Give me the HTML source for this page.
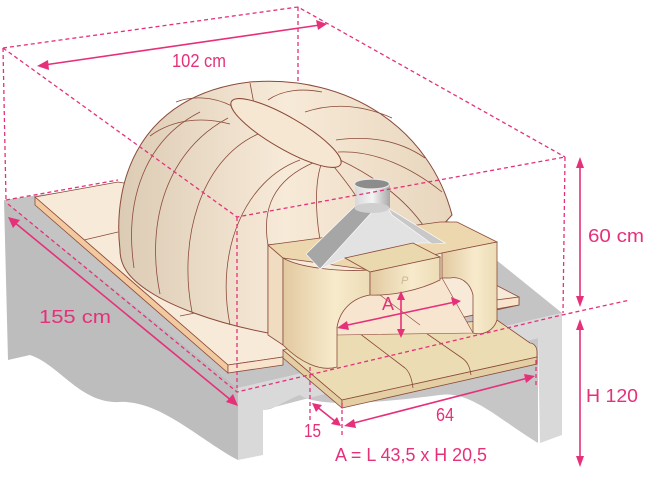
<!DOCTYPE html>
<html><head><meta charset="utf-8"><style>
html,body{margin:0;padding:0;background:#fff;}
svg{display:block;}
text{font-family:"Liberation Sans",sans-serif;fill:#e6307a;}
</style></head><body>
<svg width="655" height="493" viewBox="0 0 655 493" xmlns="http://www.w3.org/2000/svg">
<defs>
<linearGradient id="dome" x1="0" x2="1" y1="0" y2="0">
<stop offset="0" stop-color="#dccbb4"/><stop offset="0.5" stop-color="#f7ead8"/><stop offset="1" stop-color="#e8d6bd"/>
</linearGradient>
<linearGradient id="blk" x1="0" x2="1"><stop offset="0" stop-color="#e2c9a0"/><stop offset="0.6" stop-color="#f7ebcc"/><stop offset="1" stop-color="#ecdcb6"/></linearGradient>
<linearGradient id="cyl" x1="0" x2="1"><stop offset="0" stop-color="#d8d8d8"/><stop offset="0.5" stop-color="#f4f4f4"/><stop offset="1" stop-color="#a8a8a8"/></linearGradient>
</defs>
<!-- stand -->
<polygon points="4,200 360,150 562,313 238,388" fill="#c4c4c4"/>
<path d="M4,200 L238,388 L238,460 C200,440 160,400 120,402 C80,404 60,365 30,355 L8,360 Z" fill="#bdbdbd"/>
<path d="M238,388 L562,313 L562,435 L540,443 L538,338 L263,410 L263,455 L238,460 Z" fill="#d9d9d9"/>
<path d="M263,410 L538,338 L538,443 C500,420 470,390 440,395 C400,400 320,410 300,395 C285,400 275,410 263,410Z" fill="#c6c6c6"/>
<!-- base slab -->
<polygon points="35,197 118,182 450,235 490,282 519,297 519,305 283,357 228,365" fill="#f8ead8" stroke="#8b4a3a" stroke-width="0.8"/>
<polygon points="35,197 228,365 228,373 35,205" fill="#f3c9a0" stroke="#8b4a3a" stroke-width="0.8"/>
<polygon points="228,365 283,357 283,365 228,373" fill="#f8e4cc" stroke="#8b4a3a" stroke-width="0.8"/>
<polygon points="496,300 519,297 519,305 496,309" fill="#f8e4cc" stroke="#8b4a3a" stroke-width="0.8"/>
<line x1="84" y1="240" x2="118" y2="232" stroke="#8b4a3a" stroke-width="0.8"/>
<line x1="132" y1="276" x2="155" y2="272" stroke="#8b4a3a" stroke-width="0.8"/>
<line x1="180" y1="316" x2="200" y2="312" stroke="#8b4a3a" stroke-width="0.8"/>
<!-- dome -->
<path d="M120,250 C112,180 140,95 250,82 C350,74 430,130 452,215 L440,228 L268,245 L268,333 C210,322 170,305 150,292 C128,278 120,265 120,250Z" fill="url(#dome)" stroke="#8b4a3a" stroke-width="1"/>
<g fill="none" stroke="#8b4a3a" stroke-width="0.8">
<path d="M134,268 C124,200 145,140 200,112"/>
<path d="M160,294 C145,220 168,150 228,118"/>
<path d="M192,312 C178,240 200,160 258,134"/>
<path d="M230,325 C215,250 245,180 300,160"/>
<path d="M268,245 C262,210 272,180 315,162"/>
<path d="M320,240 C315,210 315,180 322,162"/>
<path d="M375,232 C365,205 345,180 330,162"/>
<path d="M425,228 C405,198 372,175 340,160"/>
<path d="M338,152 C375,150 412,168 442,192"/>
<path d="M336,140 C372,135 402,142 425,158"/>
<path d="M305,112 C335,102 365,106 392,118"/>
<path d="M268,100 C282,90 302,88 322,92"/>
<path d="M250,83 L254,104"/>
<path d="M232,106 C212,96 192,96 176,102"/>
<path d="M230,124 C200,116 172,120 150,136"/>
</g>
<ellipse cx="286" cy="133" rx="63" ry="16" transform="rotate(30 286 133)" fill="#f6e7d3" stroke="#8b4a3a" stroke-width="1"/>
<!-- entrance back pieces -->
<polygon points="268,245 283,258 283,345 268,335" fill="#f0dcc0" stroke="#8b4a3a" stroke-width="0.8"/>
<polygon points="268,245 440,222 457,222 497,242 442,253 370,270 283,258" fill="#ecd7ae" stroke="#8b4a3a" stroke-width="0.8"/>
<!-- landing -->
<path d="M283,350 L342,400 L537,357 L537,352 C537,346 533,343 530,343 L497,320 L350,330 Z" fill="#ecdcb3" stroke="#8b4a3a" stroke-width="0.8"/>
<polygon points="283,350 342,400 342,408 283,358" fill="#e3cfa3" stroke="#8b4a3a" stroke-width="0.8"/>
<path d="M342,400 L537,357 L537,364 L342,408Z" fill="#e3cfa3" stroke="#8b4a3a" stroke-width="0.8"/>
<g fill="none" stroke="#8b4a3a" stroke-width="0.8">
<path d="M355,330 L405,368 C410,372 412,380 413,388"/>
<path d="M410,322 L462,358 C468,362 470,368 471,375"/>
</g>
<!-- arch interior -->
<path d="M337,327 C340,310 352,298 370,295 L442,278 L473,333 L337,335 Z" fill="#f7e5cf" stroke="#8b4a3a" stroke-width="0.6"/>
<line x1="380" y1="295" x2="420" y2="325" stroke="#8b4a3a" stroke-width="0.6"/>
<!-- left block -->
<path d="M283,258 L283,345 C300,362 320,372 337,367 L337,327 C340,310 352,298 370,295 L370,270 C340,272 300,268 283,258 Z" fill="url(#blk)" stroke="#8b4a3a" stroke-width="0.8"/>
<!-- right pillar -->
<path d="M442,253 L497,242 L497,320 C494,330 484,336 473,333 L473,295 C470,282 460,276 450,278 L442,278 Z" fill="url(#blk)" stroke="#8b4a3a" stroke-width="0.8"/>
<!-- hood -->
<polygon points="372,210 320,269 345,258 420,243 445,243 388,208" fill="#e2e2e2" stroke="#fff" stroke-width="0.6"/>
<polygon points="355,206 306,254 320,269 372,212" fill="#a6a6a6" stroke="#fff" stroke-width="0.6"/>
<polygon points="388,208 445,243 432,244 392,215" fill="#c8c8c8" stroke="#fff" stroke-width="0.6"/>
<rect x="355" y="184" width="35" height="24" fill="url(#cyl)"/>
<ellipse cx="372" cy="208" rx="17.5" ry="5" fill="#cfcfcf"/>
<ellipse cx="372" cy="184" rx="17.5" ry="5" fill="#8c8c8c" stroke="#e8e8e8" stroke-width="1.2"/>
<!-- plaque -->
<polygon points="345,258 413,243 440,257 370,272" fill="#ead8ae" stroke="#8b4a3a" stroke-width="0.8"/>
<path d="M370,272 L440,257 L440,280 C420,290 392,296 370,295 Z" fill="url(#blk)" stroke="#8b4a3a" stroke-width="0.8"/>
<text x="401" y="284" font-size="11" style="fill:#cdb893" font-style="italic">P</text>
<!-- dashed box -->
<g stroke="#e6307a" stroke-width="1.3" stroke-dasharray="4,3" fill="none">
<path d="M3,48 L298,7 L565,157"/>
<path d="M3,48 L237,217 L565,157"/>
<path d="M3,48 L6,200"/>
<path d="M298,7 L298,83"/>
<path d="M237,217 L237,388"/>
<path d="M565,157 L563,313"/>
<path d="M6,200 L118,180"/>
<path d="M8,204 L237,392 L562,315 L630,300"/>
<path d="M310,367 L310,420"/>
<path d="M342,403 L342,436"/>
<path d="M536,360 L536,386"/>
</g>
<!-- arrows -->
<g stroke="#e6307a" stroke-width="1.6" fill="#e6307a">
<line x1="44" y1="65" x2="320" y2="25"/>
<line x1="14" y1="222" x2="232" y2="401"/>
<line x1="580" y1="163" x2="580" y2="302"/>
<line x1="580" y1="325" x2="580" y2="462"/>
<line x1="350" y1="424" x2="528" y2="378"/>
<line x1="316" y1="406" x2="336" y2="422"/>
<line x1="343" y1="326" x2="455" y2="302"/>
<line x1="401" y1="296" x2="401" y2="333"/>
</g>
<g fill="#e6307a">
<polygon points="37,66 48,60 49,70"/>
<polygon points="327,24 316,20 318,30"/>
<polygon points="8,217 20,220 13,228"/>
<polygon points="238,406 226,402 233,394"/>
<polygon points="580,157 576,168 584,168"/>
<polygon points="580,307 576,296 584,296"/>
<polygon points="580,319 576,330 584,330"/>
<polygon points="580,467 576,456 584,456"/>
<polygon points="344,426 354,419 356,428"/>
<polygon points="535,376 524,374 526,383"/>
<polygon points="312,403 322,405 316,412"/>
<polygon points="341,426 331,424 337,417"/>
<polygon points="337,328 347,321 349,330"/>
<polygon points="461,301 451,297 453,306"/>
<polygon points="401,291 397,300 405,300"/>
<polygon points="401,338 397,329 405,329"/>
</g>
<!-- labels -->
<text x="172" y="67" font-size="18" textLength="54" lengthAdjust="spacingAndGlyphs">102 cm</text>
<text x="39" y="323" font-size="18" textLength="72" lengthAdjust="spacingAndGlyphs">155  cm</text>
<text x="588" y="242" font-size="18" textLength="56" lengthAdjust="spacingAndGlyphs">60 cm</text>
<text x="586" y="402" font-size="18" textLength="52" lengthAdjust="spacingAndGlyphs">H 120</text>
<text x="436" y="421" font-size="18" textLength="18" lengthAdjust="spacingAndGlyphs">64</text>
<text x="304" y="437" font-size="18" textLength="17" lengthAdjust="spacingAndGlyphs">15</text>
<text x="382" y="310" font-size="18">A</text>
<text x="335" y="461" font-size="18" textLength="152" lengthAdjust="spacingAndGlyphs">A = L 43,5 x H 20,5</text>
</svg>
</body></html>
